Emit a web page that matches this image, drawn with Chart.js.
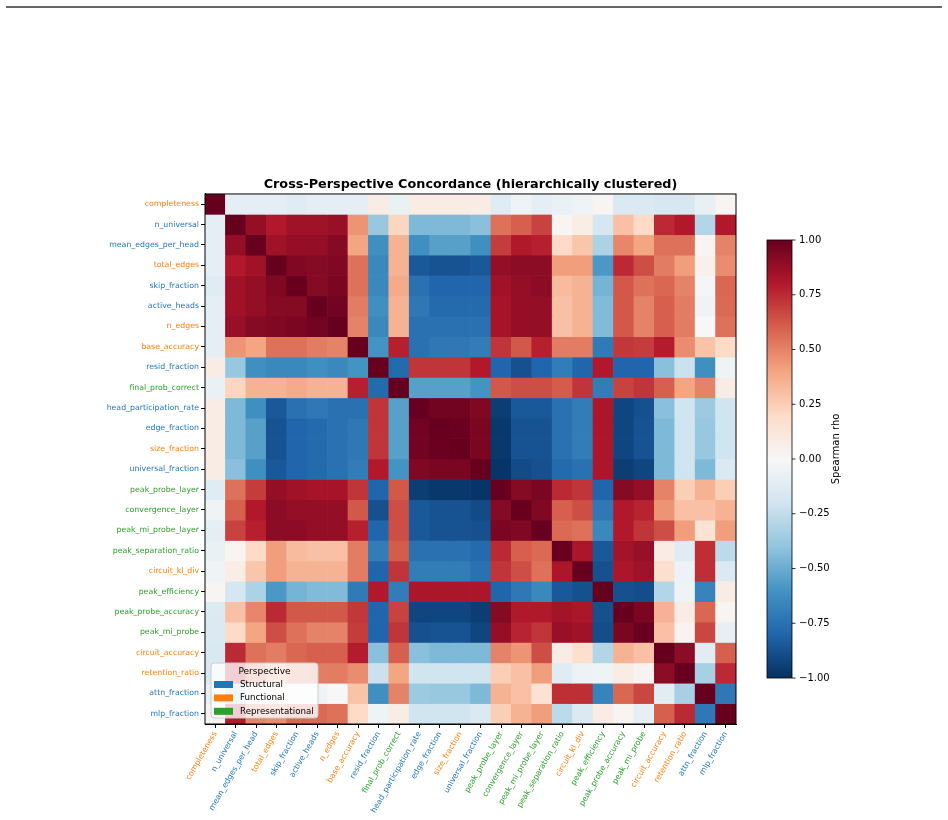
<!DOCTYPE html>
<html>
<head>
<meta charset="utf-8">
<script src="https://cdn.jsdelivr.net/npm/chart.js@4.4.1/dist/chart.umd.min.js"></script>
<style>
  body { margin: 0; background: #fff; }
  canvas { display: block; }
</style>
</head>
<body>
<canvas id="heat" width="948" height="820"></canvas>
<script>
// metric names in clustered order, and which perspective each belongs to
const metrics = ["completeness", "n_universal", "mean_edges_per_head", "total_edges", "skip_fraction",
  "active_heads", "n_edges", "base_accuracy", "resid_fraction", "final_prob_correct",
  "head_participation_rate", "edge_fraction", "size_fraction", "universal_fraction",
  "peak_probe_layer", "convergence_layer", "peak_mi_probe_layer", "peak_separation_ratio",
  "circuit_kl_div", "peak_efficiency", "peak_probe_accuracy", "peak_mi_probe",
  "circuit_accuracy", "retention_ratio", "attn_fraction", "mlp_fraction"];
const perspective = ["F", "S", "S", "F", "S", "S", "F", "F", "S", "R", "S", "S", "F", "S",
  "R", "R", "R", "R", "F", "R", "R", "R", "F", "F", "S", "S"];
const perspectiveNames = ["Structural", "Functional", "Representational"];
const perspectiveKeys = ["S", "F", "R"];

// Spearman rho, one row per metric
const rho = [
  [1, -0.1, -0.1, -0.1, -0.12, -0.1, -0.1, -0.1, 0.08, -0.07, 0.08, 0.08, 0.08, 0.08, -0.12, -0.05, -0.1, -0.07, -0.04, 0.02, -0.15, -0.15, -0.17, -0.17, -0.08, 0.02],
  [-0.1, 1, 0.88, 0.8, 0.85, 0.85, 0.87, 0.45, -0.38, 0.22, -0.45, -0.45, -0.45, -0.42, 0.55, 0.6, 0.68, 0.02, 0.07, -0.18, 0.3, 0.2, 0.75, 0.8, -0.3, 0.8],
  [-0.1, 0.88, 1, 0.85, 0.88, 0.88, 0.92, 0.4, -0.62, 0.35, -0.62, -0.55, -0.55, -0.62, 0.7, 0.8, 0.78, 0.2, 0.28, -0.32, 0.49, 0.4, 0.55, 0.55, 0.02, 0.5],
  [-0.1, 0.8, 0.85, 1, 0.93, 0.92, 0.93, 0.55, -0.65, 0.35, -0.85, -0.87, -0.87, -0.85, 0.88, 0.9, 0.9, 0.42, 0.42, -0.58, 0.75, 0.65, 0.52, 0.42, 0.05, 0.47],
  [-0.12, 0.85, 0.88, 0.93, 1, 0.92, 0.95, 0.55, -0.65, 0.38, -0.75, -0.8, -0.8, -0.8, 0.85, 0.88, 0.9, 0.32, 0.35, -0.47, 0.62, 0.55, 0.58, 0.5, -0.02, 0.58],
  [-0.1, 0.85, 0.88, 0.92, 0.92, 1, 0.97, 0.52, -0.62, 0.35, -0.72, -0.78, -0.78, -0.78, 0.83, 0.88, 0.88, 0.3, 0.35, -0.44, 0.62, 0.5, 0.6, 0.52, -0.04, 0.57],
  [-0.1, 0.87, 0.92, 0.93, 0.95, 0.97, 1, 0.5, -0.65, 0.35, -0.75, -0.75, -0.75, -0.75, 0.83, 0.88, 0.88, 0.3, 0.35, -0.44, 0.62, 0.5, 0.6, 0.52, 0.0, 0.55],
  [-0.1, 0.45, 0.4, 0.55, 0.55, 0.52, 0.5, 1, -0.6, 0.78, -0.75, -0.72, -0.72, -0.7, 0.72, 0.62, 0.78, 0.52, 0.52, -0.71, 0.71, 0.7, 0.79, 0.47, 0.29, 0.2],
  [0.08, -0.38, -0.62, -0.65, -0.65, -0.62, -0.65, -0.6, 1, -0.78, 0.72, 0.72, 0.72, 0.8, -0.8, -0.88, -0.8, -0.7, -0.8, 0.8, -0.8, -0.8, -0.42, -0.22, -0.62, -0.05],
  [-0.07, 0.22, 0.35, 0.35, 0.38, 0.35, 0.35, 0.78, -0.78, 1, -0.55, -0.55, -0.55, -0.6, 0.62, 0.65, 0.65, 0.61, 0.72, -0.7, 0.68, 0.72, 0.6, 0.4, 0.5, 0.08],
  [0.08, -0.45, -0.62, -0.85, -0.75, -0.72, -0.75, -0.75, 0.72, -0.55, 1, 0.97, 0.97, 0.93, -0.95, -0.85, -0.85, -0.75, -0.7, 0.82, -0.92, -0.88, -0.42, -0.2, -0.37, -0.2],
  [0.08, -0.45, -0.55, -0.87, -0.8, -0.78, -0.75, -0.72, 0.72, -0.55, 0.97, 1, 0.99, 0.95, -0.97, -0.87, -0.87, -0.75, -0.7, 0.82, -0.92, -0.87, -0.45, -0.2, -0.38, -0.2],
  [0.08, -0.45, -0.55, -0.87, -0.8, -0.78, -0.75, -0.72, 0.72, -0.55, 0.97, 0.99, 1, 0.95, -0.97, -0.87, -0.87, -0.75, -0.7, 0.82, -0.92, -0.87, -0.45, -0.2, -0.38, -0.2],
  [0.08, -0.42, -0.62, -0.85, -0.8, -0.78, -0.75, -0.7, 0.8, -0.6, 0.93, 0.95, 0.95, 1, -0.98, -0.9, -0.88, -0.78, -0.75, 0.82, -0.95, -0.92, -0.45, -0.2, -0.45, -0.15],
  [-0.12, 0.55, 0.7, 0.88, 0.85, 0.83, 0.83, 0.72, -0.8, 0.62, -0.95, -0.97, -0.97, -0.98, 1, 0.92, 0.95, 0.75, 0.72, -0.8, 0.92, 0.88, 0.5, 0.25, 0.35, 0.25],
  [-0.05, 0.6, 0.8, 0.9, 0.88, 0.88, 0.88, 0.62, -0.88, 0.65, -0.85, -0.87, -0.87, -0.9, 0.92, 1, 0.93, 0.6, 0.65, -0.72, 0.8, 0.77, 0.45, 0.3, 0.3, 0.35],
  [-0.1, 0.68, 0.78, 0.9, 0.9, 0.88, 0.88, 0.78, -0.8, 0.65, -0.85, -0.87, -0.87, -0.88, 0.95, 0.93, 1, 0.57, 0.55, -0.65, 0.8, 0.72, 0.65, 0.42, 0.15, 0.42],
  [-0.07, 0.02, 0.2, 0.42, 0.32, 0.3, 0.3, 0.52, -0.7, 0.61, -0.75, -0.75, -0.75, -0.78, 0.75, 0.6, 0.57, 1, 0.82, -0.85, 0.84, 0.87, 0.08, -0.12, 0.74, -0.27],
  [-0.04, 0.07, 0.28, 0.42, 0.35, 0.35, 0.35, 0.52, -0.8, 0.72, -0.7, -0.7, -0.7, -0.75, 0.72, 0.65, 0.55, 0.82, 1, -0.88, 0.82, 0.85, 0.17, -0.06, 0.74, -0.15],
  [0.02, -0.18, -0.32, -0.58, -0.47, -0.44, -0.44, -0.71, 0.8, -0.7, 0.82, 0.82, 0.82, 0.82, -0.8, -0.72, -0.65, -0.85, -0.88, 1, -0.88, -0.89, -0.3, -0.05, -0.67, 0.08],
  [-0.14, 0.3, 0.49, 0.75, 0.62, 0.62, 0.62, 0.71, -0.8, 0.68, -0.92, -0.92, -0.92, -0.95, 0.92, 0.8, 0.8, 0.84, 0.82, -0.88, 1, 0.95, 0.35, 0.08, 0.58, 0.02],
  [-0.15, 0.2, 0.4, 0.65, 0.55, 0.5, 0.5, 0.7, -0.8, 0.72, -0.88, -0.87, -0.87, -0.92, 0.88, 0.77, 0.72, 0.87, 0.85, -0.89, 0.95, 1, 0.3, 0.03, 0.67, -0.09],
  [-0.16, 0.75, 0.55, 0.52, 0.58, 0.6, 0.6, 0.79, -0.42, 0.6, -0.42, -0.45, -0.45, -0.45, 0.5, 0.45, 0.65, 0.08, 0.17, -0.3, 0.35, 0.3, 1, 0.9, -0.11, 0.6],
  [-0.16, 0.8, 0.55, 0.42, 0.5, 0.52, 0.52, 0.47, -0.22, 0.4, -0.2, -0.2, -0.2, -0.2, 0.25, 0.3, 0.42, -0.12, -0.06, -0.05, 0.08, 0.03, 0.9, 1, -0.33, 0.75],
  [-0.08, -0.3, 0.02, 0.05, -0.02, -0.04, 0.0, 0.29, -0.62, 0.5, -0.37, -0.38, -0.38, -0.45, 0.35, 0.3, 0.15, 0.74, 0.74, -0.67, 0.58, 0.67, -0.11, -0.33, 1, -0.72],
  [0.02, 0.8, 0.5, 0.47, 0.58, 0.57, 0.55, 0.2, -0.05, 0.08, -0.2, -0.2, -0.2, -0.15, 0.25, 0.35, 0.42, -0.27, -0.15, 0.08, 0.02, -0.09, 0.6, 0.75, -0.72, 1]
];

const colorbarTicks = [-1, -0.75, -0.5, -0.25, 0, 0.25, 0.5, 0.75, 1];

const groupColor = { S: "#1f77b4", F: "#ff7f0e", R: "#2ca02c" };
// RdBu_r anchor colours, -1 .. +1
const RDBU_R = ["#053061", "#2166ac", "#4393c3", "#92c5de", "#d1e5f0", "#f7f7f7",
  "#fddbc7", "#f4a582", "#d6604d", "#b2182b", "#67001f"];

function hexRgb(h) {
  return [parseInt(h.slice(1, 3), 16), parseInt(h.slice(3, 5), 16), parseInt(h.slice(5, 7), 16)];
}
function cmap(v) {
  const t = Math.max(0, Math.min(1, (v + 1) / 2)) * (RDBU_R.length - 1);
  const i = Math.min(Math.floor(t), RDBU_R.length - 2);
  const f = t - i;
  const a = hexRgb(RDBU_R[i]), b = hexRgb(RDBU_R[i + 1]);
  const c = a.map((x, k) => Math.round(x + (b[k] - x) * f));
  return "rgb(" + c.join(",") + ")";
}

Chart.defaults.font.family = "'DejaVu Sans', sans-serif";
Chart.defaults.color = "#000";

// one floating-bar dataset per row: each bar spans [row, row + 1] on the y axis
const datasets = rho.map((row, r) => ({
  label: metrics[r],
  data: row.map(() => [r, r + 1]),
  backgroundColor: row.map(cmap),
  borderWidth: 0,
  barPercentage: 1,
  categoryPercentage: 1,
  grouped: false
}));

const decor = {
  id: "decor",
  afterDraw(chart) {
    const ctx = chart.ctx;
    const a = chart.chartArea;
    ctx.save();

    // frame around heatmap
    ctx.strokeStyle = "#000";
    ctx.lineWidth = 1;
    ctx.strokeRect(a.left, a.top, a.right - a.left, a.bottom - a.top);

    // stray rule at the very top of the figure
    ctx.strokeStyle = "#333";
    ctx.lineWidth = 1.5;
    ctx.beginPath();
    ctx.moveTo(6, 7);
    ctx.lineTo(942, 7);
    ctx.stroke();

    // colorbar
    const cbL = 767, cbR = 792, cbT = 240, cbB = 678;
    const g = ctx.createLinearGradient(0, cbB, 0, cbT);
    RDBU_R.forEach((c, i) => g.addColorStop(i / (RDBU_R.length - 1), c));
    ctx.fillStyle = g;
    ctx.fillRect(cbL, cbT, cbR - cbL, cbB - cbT);
    ctx.strokeStyle = "#000";
    ctx.lineWidth = 0.8;
    ctx.strokeRect(cbL, cbT, cbR - cbL, cbB - cbT);
    ctx.font = "10px 'DejaVu Sans'";
    ctx.fillStyle = "#000";
    ctx.textAlign = "left";
    ctx.textBaseline = "middle";
    colorbarTicks.forEach(v => {
      const y = cbB - (v + 1) / 2 * (cbB - cbT);
      ctx.beginPath();
      ctx.moveTo(cbR, y);
      ctx.lineTo(cbR + 3.5, y);
      ctx.stroke();
      ctx.fillText((v < 0 ? "\u2212" : "") + Math.abs(v).toFixed(2), cbR + 7, y);
    });
    ctx.save();
    ctx.translate(836, 449);
    ctx.rotate(-Math.PI / 2);
    ctx.textAlign = "center";
    ctx.fillText("Spearman rho", 0, 0);
    ctx.restore();

    // perspective legend
    const lx = 211, ly = 663, lw = 107, lh = 55;
    ctx.fillStyle = "rgba(255,255,255,0.8)";
    ctx.strokeStyle = "#cccccc";
    ctx.lineWidth = 1;
    ctx.beginPath();
    ctx.roundRect(lx, ly, lw, lh, 3);
    ctx.fill();
    ctx.stroke();
    ctx.fillStyle = "#000";
    ctx.textAlign = "center";
    ctx.font = "9px 'DejaVu Sans'";
    ctx.fillText("Perspective", lx + lw / 2, ly + 8.5);
    ctx.textAlign = "left";
    ctx.font = "8.7px 'DejaVu Sans'";
    perspectiveKeys.forEach((k, i) => {
      const y = ly + 21.5 + i * 13.4;
      ctx.fillStyle = groupColor[k];
      ctx.fillRect(lx + 3, y - 3.5, 19, 7);
      ctx.fillStyle = "#000";
      ctx.fillText(perspectiveNames[i], lx + 29, y);
    });
    ctx.restore();
  }
};

new Chart(document.getElementById("heat"), {
  type: "bar",
  data: { labels: metrics, datasets: datasets },
  options: {
    responsive: false,
    animation: false,
    devicePixelRatio: 1,
    layout: { padding: { top: 177, right: 212, bottom: 0, left: 0 } },
    plugins: {
      legend: { display: false },
      tooltip: { enabled: false },
      title: {
        display: true,
        fullSize: false,
        text: "Cross-Perspective Concordance (hierarchically clustered)",
        font: { size: 12.8, weight: "bold" },
        color: "#000",
        padding: { top: 0, bottom: 1.6 }
      }
    },
    scales: {
      x: {
        type: "category",
        offset: true,
        grid: { offset: false, drawOnChartArea: false, tickLength: 4, color: "#000" },
        border: { color: "#000" },
        ticks: {
          autoSkip: false,
          minRotation: 60,
          maxRotation: 60,
          padding: 2,
          font: { size: 7.8 },
          color: c => groupColor[perspective[c.index]]
        },
        afterFit: s => { s.height = 96; }
      },
      y: {
        type: "linear",
        min: 0,
        max: metrics.length,
        reverse: true,
        afterBuildTicks: s => { s.ticks = metrics.map((m, i) => ({ value: i + 0.5 })); },
        grid: { drawOnChartArea: false, tickLength: 4, color: "#000" },
        border: { color: "#000" },
        ticks: {
          padding: 2,
          font: { size: 7.8 },
          callback: (v, i) => metrics[i],
          color: c => groupColor[perspective[c.index]]
        },
        afterFit: s => { s.width = 205; }
      }
    }
  },
  plugins: [decor]
});
</script>
</body>
</html>
